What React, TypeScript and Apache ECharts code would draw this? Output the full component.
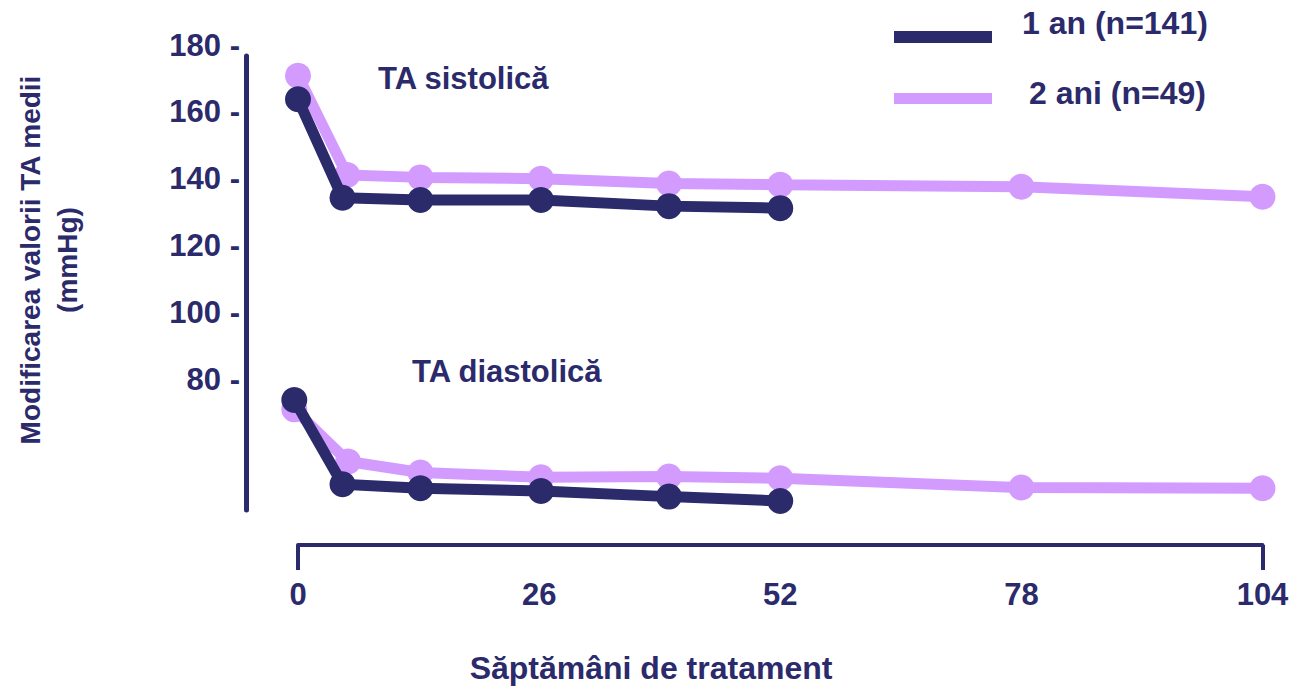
import React, { useEffect, useRef } from "react";
import * as echarts from "echarts";

const DARK = "#2b2a6b";
const LIGHT = "#d39bfe";
const FONT = "'Liberation Sans', Arial, sans-serif";

const seriesNames = ["1 an (n=141)", "2 ani (n=49)"];

// weeks (x) and blood pressure values (mmHg)
const weeks1Sys = [0, 4.8, 13.2, 26.2, 40, 52];
const sys1 = [163.8, 134.3, 133.6, 133.6, 131.8, 131.2];
const weeks1Dia = [-0.4, 4.8, 13.2, 26.2, 40, 52];
const dia1 = [73.8, 48.6, 47.4, 46.6, 44.9, 43.6];

const weeks2Sys = [0, 5.3, 13.2, 26.2, 40, 52, 78, 104];
const sys2 = [170.8, 141.1, 140.4, 140.0, 138.6, 138.2, 137.6, 134.6];
const weeks2Dia = [-0.4, 5.4, 13.2, 26.2, 40, 52, 78, 104];
const dia2 = [71.0, 55.4, 52.1, 50.7, 50.9, 50.4, 47.6, 47.4];

const yTickValues = [80, 100, 120, 140, 160, 180];

const yTitle = "Modificarea valorii TA medii\n(mmHg)";
const xTitle = "Săptămâni de tratament";
const sysLabel = "TA sistolică";
const diaLabel = "TA diastolică";

const zip = (xs: number[], ys: number[]) => xs.map((x, i) => [x, ys[i]]);

function makeSeries(name: string, xs: number[], ys: number[], color: string, z: number) {
  return {
    type: "line",
    name,
    xAxisIndex: 0,
    yAxisIndex: 0,
    data: zip(xs, ys),
    symbol: "circle",
    symbolSize: 26,
    clip: false,
    z,
    lineStyle: { color, width: 11 },
    itemStyle: { color },
    emphasis: { disabled: true },
  };
}

export default function App() {
  const ref = useRef<HTMLDivElement>(null);
  useEffect(() => {
    if (!ref.current) return;
    const chart = echarts.init(ref.current, undefined, { renderer: "svg" });
    const textBase = { fontFamily: FONT, fontWeight: "bold", color: DARK };
    chart.setOption({
      animation: false,
      backgroundColor: "#ffffff",
      grid: [
        { left: 298, right: 29.5, top: 45, bottom: 174 },
        { left: 246, width: 10, top: 56, bottom: 177 },
      ],
      xAxis: [
        {
          type: "value",
          gridIndex: 0,
          min: 0,
          max: 104,
          interval: 26,
          position: "bottom",
          offset: 32,
          axisLine: { show: true, lineStyle: { color: DARK, width: 4 } },
          axisTick: { show: false },
          splitLine: { show: false },
          axisLabel: { ...textBase, fontSize: 31, margin: 34 },
        },
        {
          type: "value",
          gridIndex: 0,
          min: 0,
          max: 104,
          interval: 104,
          position: "bottom",
          offset: 32,
          axisLine: { show: false },
          axisTick: { show: true, inside: false, length: 25, lineStyle: { color: DARK, width: 4 } },
          splitLine: { show: false },
          axisLabel: { show: false },
        },
        { type: "value", gridIndex: 1, show: false },
      ],
      yAxis: [
        {
          type: "value",
          gridIndex: 0,
          min: 40,
          max: 180,
          interval: 20,
          position: "left",
          offset: 52,
          axisLine: { show: false },
          axisTick: { show: false },
          splitLine: { show: false },
          axisLabel: {
            ...textBase,
            fontSize: 31,
            margin: 6,
            formatter: (v: number) => (yTickValues.includes(v) ? `${v} -` : ""),
          },
        },
        {
          type: "value",
          gridIndex: 1,
          position: "left",
          axisLine: { show: true, lineStyle: { color: DARK, width: 5 } },
          axisTick: { show: false },
          axisLabel: { show: false },
          splitLine: { show: false },
        },
      ],
      series: [
        makeSeries(seriesNames[1], weeks2Sys, sys2, LIGHT, 2),
        makeSeries(seriesNames[1], weeks2Dia, dia2, LIGHT, 2),
        makeSeries(seriesNames[0], weeks1Sys, sys1, DARK, 3),
        makeSeries(seriesNames[0], weeks1Dia, dia1, DARK, 3),
      ],
      graphic: [
        {
          type: "text",
          x: 49,
          y: 260,
          rotation: Math.PI / 2,
          style: {
            text: yTitle,
            font: `bold 28px ${FONT}`,
            fill: DARK,
            align: "center",
            verticalAlign: "middle",
            lineHeight: 37,
          },
        },
        {
          type: "text",
          x: 651,
          y: 668,
          style: { text: xTitle, font: `bold 32px ${FONT}`, fill: DARK, align: "center", verticalAlign: "middle" },
        },
        {
          type: "text",
          x: 378,
          y: 78,
          style: { text: sysLabel, font: `bold 31px ${FONT}`, fill: DARK, align: "left", verticalAlign: "middle" },
        },
        {
          type: "text",
          x: 412,
          y: 371,
          style: { text: diaLabel, font: `bold 31px ${FONT}`, fill: DARK, align: "left", verticalAlign: "middle" },
        },
        { type: "rect", shape: { x: 894, y: 31, width: 98, height: 12 }, style: { fill: DARK } },
        {
          type: "text",
          x: 1022,
          y: 22.5,
          style: { text: seriesNames[0], font: `bold 32px ${FONT}`, fill: DARK, align: "left", verticalAlign: "middle" },
        },
        { type: "rect", shape: { x: 894, y: 93, width: 98, height: 11 }, style: { fill: LIGHT } },
        {
          type: "text",
          x: 1029,
          y: 93,
          style: { text: seriesNames[1], font: `bold 32px ${FONT}`, fill: DARK, align: "left", verticalAlign: "middle" },
        },
      ],
    });
    return () => chart.dispose();
  }, []);
  return <div ref={ref} style={{ position: "fixed", left: 0, top: 0, width: 1292, height: 687 }} />;
}
